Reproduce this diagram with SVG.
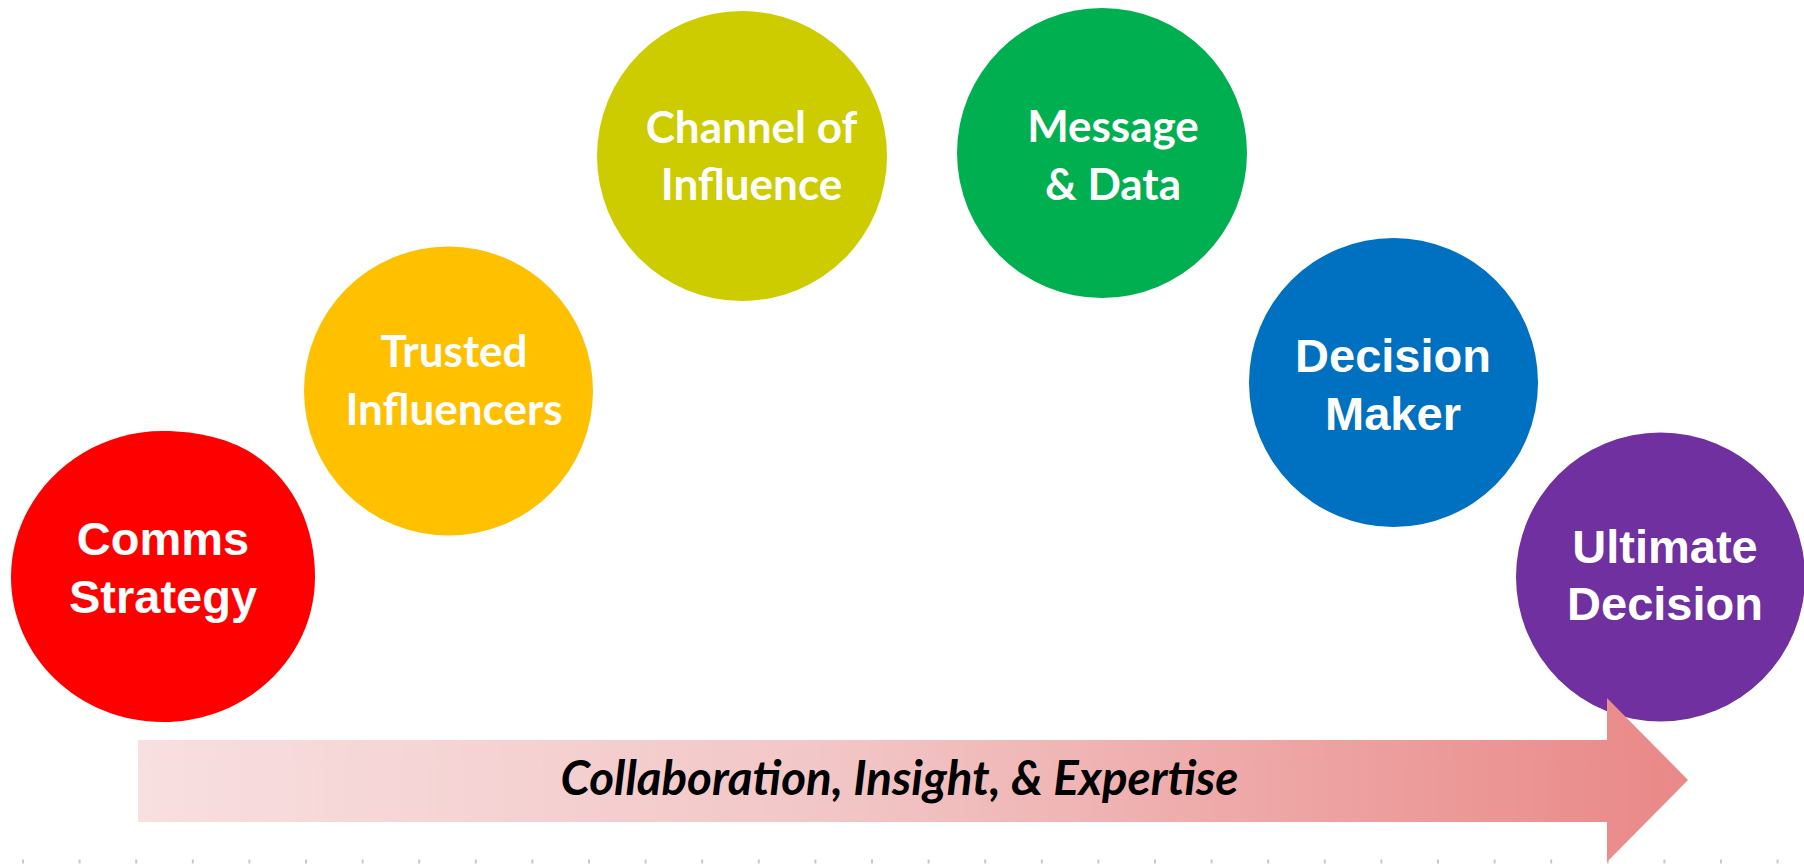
<svg xmlns="http://www.w3.org/2000/svg" width="1804" height="864" viewBox="0 0 1804 864">
  <defs>
    <linearGradient id="flowFill" gradientUnits="userSpaceOnUse" x1="138" y1="0" x2="1688" y2="0">
      <stop offset="0" stop-color="#F8DFE0"/>
      <stop offset="0.45" stop-color="#F2C6C6"/>
      <stop offset="1" stop-color="#E98887"/>
    </linearGradient>
    <style>
      .arial { font-family: "Liberation Sans", Arial, sans-serif; font-weight: bold; font-size: 47px; fill: #FFFFFF; text-anchor: middle; }
      .cal { font-family: Lato, "Open Sans", sans-serif; font-weight: bold; font-size: 44px; fill: #FFFFFF; text-anchor: middle; }
      .caption { font-family: Lato, "Open Sans", sans-serif; font-weight: bold; font-style: italic; font-size: 47.5px; fill: #000000; text-anchor: middle; }
      .ticks { fill: none; stroke: #C8C8C8; stroke-width: 4; stroke-dasharray: 2 54.6; }
    </style>
  </defs>

  <rect x="0" y="0" width="1804" height="864" fill="#FFFFFF"/>

  <!-- faint tick guide along the bottom edge -->
  <path class="ticks" d="M22 861.5 H1804"/>

  <g id="comms-strategy">
    <path d="M163 431 C200 431 230 440 250 452 C292 478 315 524 315 577 C315 657 247 722 163 722 C79 722 11 657 11 577 C11 497 79 431 163 431 Z" fill="#FF0000"/>
    <text class="arial" x="163" y="555">Comms</text>
    <text class="arial" x="163" y="613">Strategy</text>
  </g>

  <g id="trusted-influencers">
    <circle cx="448.5" cy="391" r="144.5" fill="#FFC000"/>
    <text class="cal" x="454" y="367">Trusted</text>
    <text class="cal" x="454" y="425">Influencers</text>
  </g>

  <g id="channel-of-influence">
    <circle cx="742" cy="156" r="145" fill="#CCCC00"/>
    <text class="cal" x="751.5" y="143">Channel of</text>
    <text class="cal" x="751.5" y="200">Influence</text>
  </g>

  <g id="message-data">
    <circle cx="1102" cy="153" r="145" fill="#00B050"/>
    <text class="cal" x="1113" y="142">Message</text>
    <text class="cal" x="1113" y="200">&amp; Data</text>
  </g>

  <g id="decision-maker">
    <circle cx="1393.5" cy="382.5" r="144.5" fill="#0070C0"/>
    <text class="arial" x="1393" y="372">Decision</text>
    <text class="arial" x="1393" y="430">Maker</text>
  </g>

  <g id="ultimate-decision">
    <circle cx="1660.5" cy="577" r="144.5" fill="#7030A0"/>
    <text class="arial" x="1665" y="563">Ultimate</text>
    <text class="arial" x="1665" y="620">Decision</text>
  </g>

  <g id="connectors">
    <polygon points="138,740 1607,740 1607,698 1688,780 1607,862 1607,822 138,822" fill="url(#flowFill)"/>
    <text class="caption" x="899.5" y="795">Collaboration, Insight, &amp; Expertise</text>
  </g>
</svg>
